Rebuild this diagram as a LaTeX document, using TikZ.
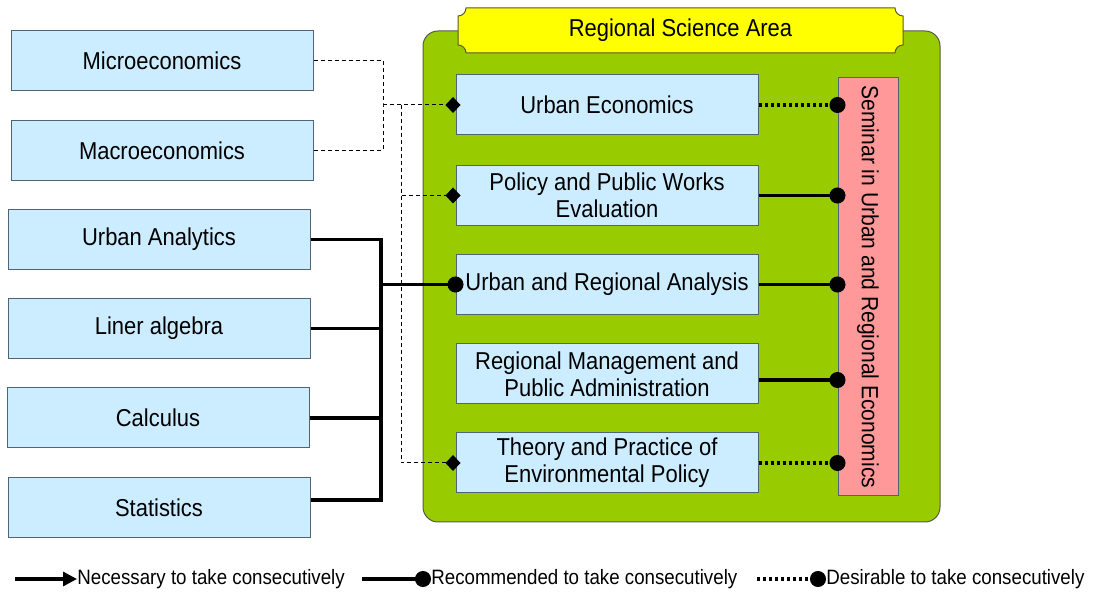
\documentclass[tikz,border=0pt]{standalone}
\usepackage{fontspec}
\setmainfont{Liberation Sans}[FakeStretch=0.9]
\usetikzlibrary{arrows.meta}
\definecolor{courseblue}{RGB}{204,236,255}
\definecolor{courseline}{RGB}{80,100,115}
\definecolor{areagreen}{RGB}{153,204,0}
\definecolor{arealine}{RGB}{85,90,80}
\definecolor{banneryellow}{RGB}{255,255,0}
\definecolor{bannerline}{RGB}{90,90,40}
\definecolor{seminarpink}{RGB}{255,153,153}
\def\coursefont{\fontsize{12.2}{13.5}\selectfont}
\def\legendfont{\fontsize{10.4}{11}\selectfont}

\begin{document}
\begin{tikzpicture}[x=0.5pt, y=-0.5pt,
	course/.style={draw=courseline, line width=0.5pt, fill=courseblue, minimum width=151pt, minimum height=30pt, inner sep=0pt, align=center, font=\coursefont},
	prereq/.style={line width=0.5pt, dash pattern=on 2pt off 1.5pt},
	need/.style={line width=1.6pt},
	desire/.style={line width=1.6pt, dash pattern=on 1.5pt off 1.5pt},
	diamondtip/.style={-{Diamond[length=7.5pt,width=8pt]}, shorten >=-2.5pt},
	dottip/.style={-{Circle[length=8pt]}, shorten >=-4pt},
	legend/.style={anchor=west, inner sep=0pt, font=\legendfont}]
		%%%%% START %%%%%
		\useasboundingbox (0,0) rectangle (1096,597);
		
		\draw[draw=arealine, line width=0.5pt, fill=areagreen, rounded corners=7.5pt] (423,31) rectangle (940,522);
		\draw[draw=bannerline, line width=0.5pt, fill=banneryellow] (466,8) -- (895,8) arc (180:90:8) -- (903,45) arc (270:180:8) -- (466,53) arc (0:-90:8) -- (458,16) arc (90:0:8) -- cycle;
		\node[font=\coursefont] (area) at (680.5,30.5) {Regional Science Area};
		
		\node[course] (micro) at (162,61) {Microeconomics};
		\node[course] (macro) at (162,150.5) {Macroeconomics};
		\node[course] (ua) at (159,239.5) {Urban Analytics};
		\node[course] (la) at (159,328.5) {Liner algebra};
		\node[course] (ca) at (158,418) {Calculus};
		\node[course] (st) at (159,508) {Statistics};
		
		\node[course] (ue) at (607,105) {Urban Economics};
		\node[course] (pp) at (607,195.5) {Policy and Public Works\\Evaluation};
		\node[course] (ura) at (607,284.5) {Urban and Regional Analysis};
		\node[course] (rm) at (607,374) {Regional Management and\\Public Administration};
		\node[course] (tp) at (607,463) {Theory and Practice of\\Environmental Policy};
		
		\node[draw=courseline, line width=0.5pt, fill=seminarpink, rotate=-90, minimum width=209pt, minimum height=30pt, inner sep=0pt, font=\fontsize{11.7}{12}\selectfont] (sem) at (868,287) {Seminar in Urban and Regional Economics};
		
		% dashed links
		\coordinate (j1) at (383,105);
		\coordinate (j2) at (401,105);
		\draw[prereq] (micro.east) -| (j1) |- (macro.east);
		\draw[prereq, diamondtip] (j1) -- (ue.west);
		\draw[prereq, diamondtip] (j2) |- (pp.west);
		\draw[prereq, diamondtip] (j2) |- (tp.west);
		
		% solid links
		\coordinate (b1) at (381,239.5);
		\coordinate (b2) at (381,500);
		\draw[need] (ua.east) -- (b1) -- (b2) -- (st.east |- b2);
		\draw[need] (la.east) -- (la.east -| b1);
		\draw[need] (ca.east) -- (ca.east -| b1);
		\draw[need, dottip] (b1 |- ura.west) -- (ura.west);
		
		% to the seminar
		\draw[desire, dottip] (ue.east) -- (ue.east -| sem.south);
		\draw[need, dottip] (pp.east) -- (pp.east -| sem.south);
		\draw[need, dottip] (ura.east) -- (ura.east -| sem.south);
		\draw[need, dottip] ([yshift=-3pt]rm.east) -- ([yshift=-3pt]rm.east -| sem.south);
		\draw[desire, dottip] (tp.east) -- (tp.east -| sem.south);
		
		% legend
		\node[legend] (necessary) at (77,579) {Necessary to take consecutively};
		\node[legend] (recommended) at (431,579) {Recommended to take consecutively};
		\node[legend] (desirable) at (826,579) {Desirable to take consecutively};
		\coordinate (l1) at (15,579);
		\coordinate (l2) at (362,579);
		\coordinate (l3) at (757,579);
		\draw[need, -{Triangle[length=7pt,width=7pt]}] (l1) -- (necessary.west);
		\draw[need, -{Circle[length=8pt]}] (l2) -- (recommended.west);
		\draw[desire, -{Circle[length=8pt]}] (l3) -- (desirable.west);
		
		%%%%% END %%%%%
	\end{tikzpicture}
\end{document}
